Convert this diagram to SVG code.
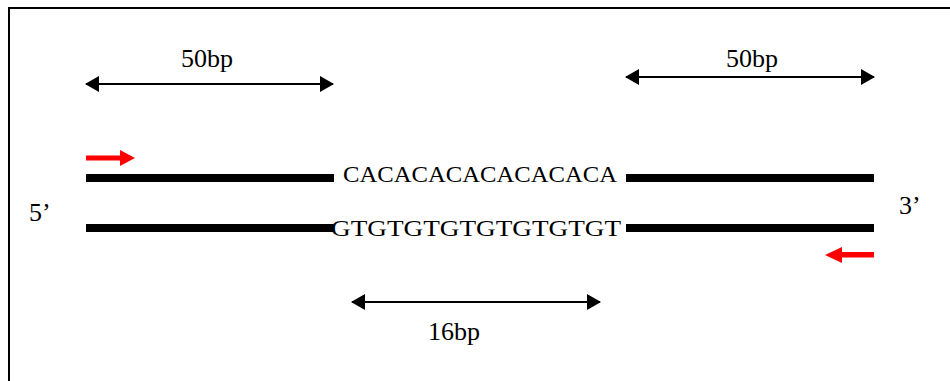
<svg xmlns="http://www.w3.org/2000/svg" width="950" height="381" viewBox="0 0 950 381">
<defs>
<marker id="ah" viewBox="0 0 14 16" refX="13" refY="8" markerWidth="14" markerHeight="16" markerUnits="userSpaceOnUse" orient="auto-start-reverse">
<path d="M0,0 L14,8 L0,16 Z" fill="#000"/>
</marker>
</defs>
<style>
.t{font-family:"Liberation Serif","Times New Roman",serif;fill:#000}
.lbl{font-size:26px}
.seq{font-size:24px}
.dim{stroke:#000;stroke-width:2;fill:none}
.strand{stroke:#000;stroke-width:8;fill:none}
.primer{fill:#ff0000}
</style>
<rect width="950" height="381" fill="#fff"/>
<path d="M9,381 V8 H950" fill="none" stroke="#000" stroke-width="2"/>
<g id="connectors">
<line class="dim" x1="86" y1="84" x2="333" y2="84" marker-start="url(#ah)" marker-end="url(#ah)"/>
<line class="dim" x1="626" y1="77" x2="874" y2="77" marker-start="url(#ah)" marker-end="url(#ah)"/>
<line class="dim" x1="352" y1="302" x2="600" y2="302" marker-start="url(#ah)" marker-end="url(#ah)"/>
</g>
<g id="label-50bp-left"><text class="t lbl" x="207" y="67" text-anchor="middle">50bp</text></g>
<g id="label-50bp-right"><text class="t lbl" x="752" y="67" text-anchor="middle">50bp</text></g>
<g id="label-16bp"><text class="t lbl" x="454" y="340" text-anchor="middle">16bp</text></g>
<g id="strand-top">
<line class="strand" x1="86" y1="178" x2="334" y2="178"/>
<line class="strand" x1="626" y1="178" x2="874" y2="178"/>
<text class="t seq" x="343" y="182" textLength="274" lengthAdjust="spacingAndGlyphs">CACACACACACACACA</text>
</g>
<g id="strand-bottom">
<line class="strand" x1="86" y1="228" x2="334" y2="228"/>
<line class="strand" x1="626" y1="228" x2="874" y2="228"/>
<text class="t seq" x="331" y="236" textLength="290" lengthAdjust="spacingAndGlyphs">GTGTGTGTGTGTGTGT</text>
</g>
<g id="end-5"><text class="t lbl" x="29" y="221">5’</text></g>
<g id="end-3"><text class="t lbl" x="899" y="214">3’</text></g>
<g id="primer-forward">
<path class="primer" d="M86,155.5 H120 V150 L135,158 L120,166 V160.5 H86 Z"/>
</g>
<g id="primer-reverse">
<path class="primer" d="M874,252 H842 V247 L825,255 L842,263 V257.5 H874 Z"/>
</g>
</svg>
